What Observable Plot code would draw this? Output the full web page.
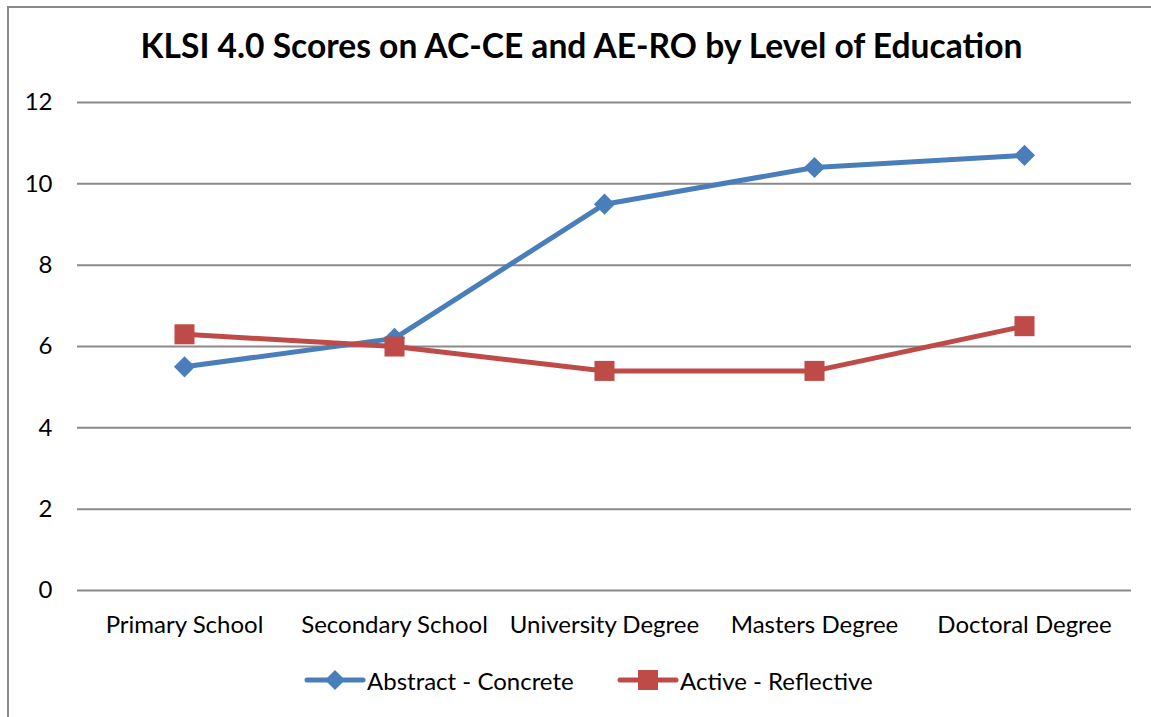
<!DOCTYPE html>
<html><head><meta charset="utf-8">
<script src="https://cdn.jsdelivr.net/npm/d3@7"></script>
<script src="https://cdn.jsdelivr.net/npm/@observablehq/plot@0.6"></script>
<style>
body{margin:0;background:#fff;font-family:Lato,"Open Sans",sans-serif;}
#wrap{position:relative;width:1151px;height:717px;overflow:hidden;}
#frame{position:absolute;left:7px;top:6px;width:1200px;height:800px;border-left:2px solid #8a8a8a;border-top:2px solid #8a8a8a;}
#title{position:absolute;left:6px;width:1151px;top:25px;text-align:center;font-weight:bold;font-size:33.6px;color:#000;}
#legend{position:absolute;top:665px;left:0;width:1151px;font-size:24px;color:#000;}
.li{position:absolute;display:flex;align-items:center;}
#chart{position:absolute;left:0;top:0;}
</style></head>
<body><div id="wrap"><div id="frame"></div><div id="chart"></div><div id="title"></div><div id="legend"></div></div>
<script>
const categories = ["Primary School","Secondary School","University Degree","Masters Degree","Doctoral Degree"];
const abstractConcrete = [5.5, 6.2, 9.5, 10.4, 10.7];
const activeReflective = [6.3, 6.0, 5.4, 5.4, 6.5];
const seriesNames = ["Abstract - Concrete","Active - Reflective"];
const seriesColors = ["#4a7ebb","#be4b48"];
const yTicks = [0,2,4,6,8,10,12];
const titleText = "KLSI 4.0 Scores on AC-CE and AE-RO by Level of Education";

const rows = [];
categories.forEach((c,i)=>{
  rows.push({cat:c, v:abstractConcrete[i], s:seriesNames[0]});
  rows.push({cat:c, v:activeReflective[i], s:seriesNames[1]});
});
const A = rows.filter(d=>d.s===seriesNames[0]);
const R = rows.filter(d=>d.s===seriesNames[1]);

const plot = Plot.plot({
  width:1151, height:717,
  marginTop:102, marginBottom:127, marginLeft:77, marginRight:20,
  style:{fontFamily:"Lato, 'Open Sans', sans-serif", fontSize:"24px", color:"#000", background:"transparent"},
  x:{type:"band", domain:categories, padding:0, label:null},
  y:{domain:[0,12], ticks:yTicks, label:null},
  marks:[
    Plot.ruleY(yTicks,{stroke:"#8a8a8a", strokeWidth:2}),
    Plot.axisY({ticks:yTicks, tickSize:0, tickPadding:25, fontSize:24, label:null}),
    Plot.axisX({tickSize:0, tickPadding:25, fontSize:24, label:null}),
    Plot.line(A,{x:"cat", y:"v", stroke:seriesColors[0], strokeWidth:5}),
    Plot.line(R,{x:"cat", y:"v", stroke:seriesColors[1], strokeWidth:5}),
    Plot.dot(A,{x:"cat", y:"v", symbol:"diamond2", r:9.5, fill:seriesColors[0], stroke:"none"}),
    Plot.dot(R,{x:"cat", y:"v", symbol:"square", r:11.3, fill:seriesColors[1], stroke:"none"})
  ]
});
document.getElementById("chart").appendChild(plot);
document.getElementById("title").textContent = titleText;

const leg = document.getElementById("legend");
const legX = [304, 617];
const shapes = ['<path d="M0,-10L10,0L0,10L-10,0Z"/>','<rect x="-10" y="-10" width="20" height="20"/>'];
seriesNames.forEach((n,i)=>{
  const d = document.createElement("div");
  d.className="li"; d.style.left = legX[i]+"px";
  d.innerHTML = `<svg width="62" height="30"><line x1="3" x2="59" y1="15" y2="15" stroke="${seriesColors[i]}" stroke-width="5" stroke-linecap="round"/><g transform="translate(31,15)" fill="${seriesColors[i]}">${shapes[i]}</g></svg><span style="margin-left:1px">${n}</span>`;
  leg.appendChild(d);
});
</script></body></html>
